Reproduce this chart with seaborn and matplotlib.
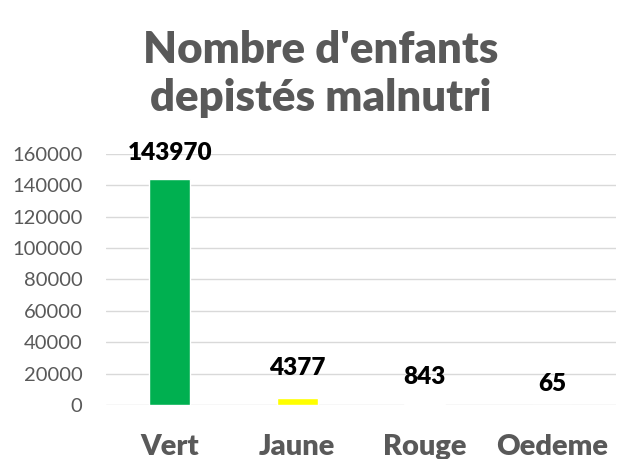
import numpy as np
import pandas as pd
import seaborn as sns
import matplotlib.pyplot as plt

categories = ["Vert", "Jaune", "Rouge", "Oedeme"]
values = [143970, 4377, 843, 65]
colors = ["#00B050", "#FFFF00", "#FF7C80", "#5B9BD5"]
label_offsets = [19, 22, 19, 15]  # points above bar top

sns.set_theme(style="white")
plt.rcParams['font.family'] = ['Lato', 'DejaVu Sans']

df = pd.DataFrame({"cat": categories, "val": values})

fig = plt.figure(figsize=(6.17, 4.59), dpi=100)
ax = fig.add_axes([0.172, 0.1176, 0.826, 0.547])
sns.barplot(data=df, x="cat", y="val", hue="cat", palette=colors,
            width=0.32, legend=False, ax=ax, saturation=1)

ax.set_ylim(0, 160000)
ax.set_yticks(np.arange(0, 160001, 20000))
ax.yaxis.grid(True, color="#D9D9D9", linewidth=1)
ax.set_axisbelow(True)
for s in ax.spines.values():
    s.set_visible(False)
ax.set_xlabel("")
ax.set_ylabel("")
ax.tick_params(axis="y", labelsize=14.5, colors="#595959", length=0, pad=17)
ax.tick_params(axis="x", length=0, pad=21)
for t in ax.get_xticklabels():
    t.set_fontsize(21)
    t.set_fontweight("heavy")
    t.set_color("#595959")

for i, (v, off) in enumerate(zip(values, label_offsets)):
    ax.annotate(str(v), (i, v), xytext=(0, off), textcoords="offset points",
                ha="center", va="center", fontsize=17.5, fontweight="heavy",
                color="black")

fig.text(0.52, 0.838, "Nombre d'enfants\ndepistés malnutri", ha="center",
         va="center", fontsize=31.5, fontweight="heavy", color="#595959",
         linespacing=1.25)

fig.savefig("out.png", dpi=100)
